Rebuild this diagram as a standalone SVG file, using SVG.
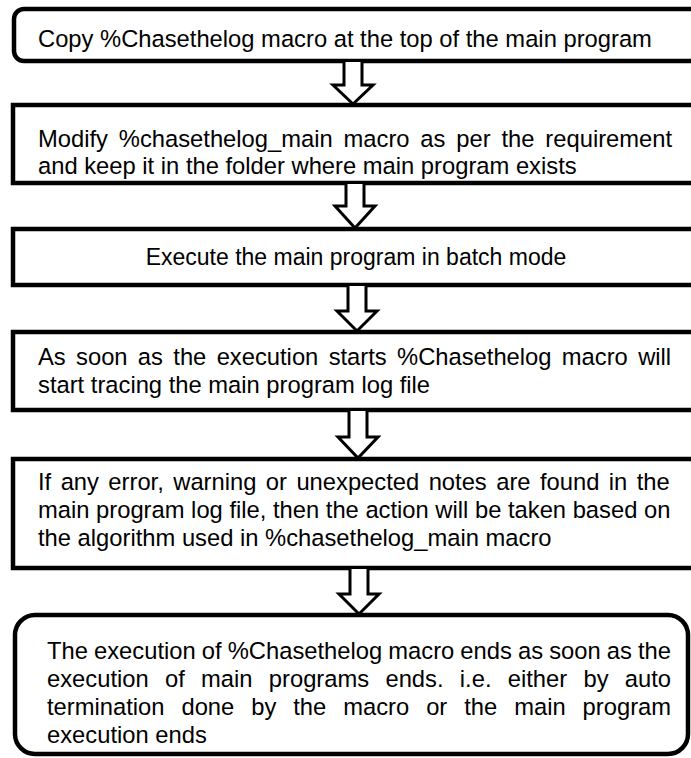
<svg xmlns="http://www.w3.org/2000/svg" width="691" height="758" viewBox="0 0 691 758">
<defs>
<style>
.box{fill:#fff;stroke:#000;stroke-width:4.5}
.arr{fill:#fff;stroke:#000;stroke-width:3;stroke-linejoin:miter}
text{font-family:"Liberation Sans",Arial,sans-serif;font-size:23.75px;fill:#000}
</style>
</defs>
<rect width="691" height="758" fill="#fff"/>
<g id="node1">
<rect class="box" x="14" y="9" width="700" height="52" rx="10"/>
<text x="38" y="47">Copy %Chasethelog macro at the top of the main program</text>
</g>
<g id="node2">
<rect class="box" x="13" y="105" width="700" height="78"/>
<text x="38" y="147" word-spacing="4.25">Modify %chasethelog_main macro as per the requirement</text>
<text x="38" y="174">and keep it in the folder where main program exists</text>
</g>
<g id="node3">
<rect class="box" x="13" y="229" width="700" height="56"/>
<text x="356" y="265" text-anchor="middle" style="font-size:23px">Execute the main program in batch mode</text>
</g>
<g id="node4">
<rect class="box" x="13" y="332" width="700" height="78"/>
<text x="38" y="365" word-spacing="3.73">As soon as the execution starts %Chasethelog macro will</text>
<text x="38" y="393">start tracing the main program log file</text>
</g>
<g id="node5">
<rect class="box" x="13" y="459" width="700" height="109"/>
<text x="38" y="490" word-spacing="2.84">If any error, warning or unexpected notes are found in the</text>
<text x="38" y="518">main program log file, then the action will be taken based on</text>
<text x="38" y="546">the algorithm used in %chasethelog_main macro</text>
</g>
<g id="node6">
<rect class="box" x="15" y="615" width="673" height="139" rx="20"/>
<text x="47" y="659" word-spacing="-0.5">The execution of %Chasethelog macro ends as soon as the</text>
<text x="47" y="687" word-spacing="9.69">execution of main programs ends. i.e. either by auto</text>
<text x="47" y="715" word-spacing="10.35">termination done by the macro or the main program</text>
<text x="47" y="743">execution ends</text>
</g>
<g id="connectors">
<path class="arr" d="M344,62 V85 H333 L353,104 L373,85 H362 V62"/>
<path class="arr" d="M346,184 V206 H335 L355,228 L375,206 H364 V184"/>
<path class="arr" d="M348,286 V311 H337 L357,331 L377,311 H366 V286"/>
<path class="arr" d="M349,411 V437 H338 L358,458 L378,437 H367 V411"/>
<path class="arr" d="M350,569 V594 H339 L359,614 L379,594 H368 V569"/>
</g>
</svg>
